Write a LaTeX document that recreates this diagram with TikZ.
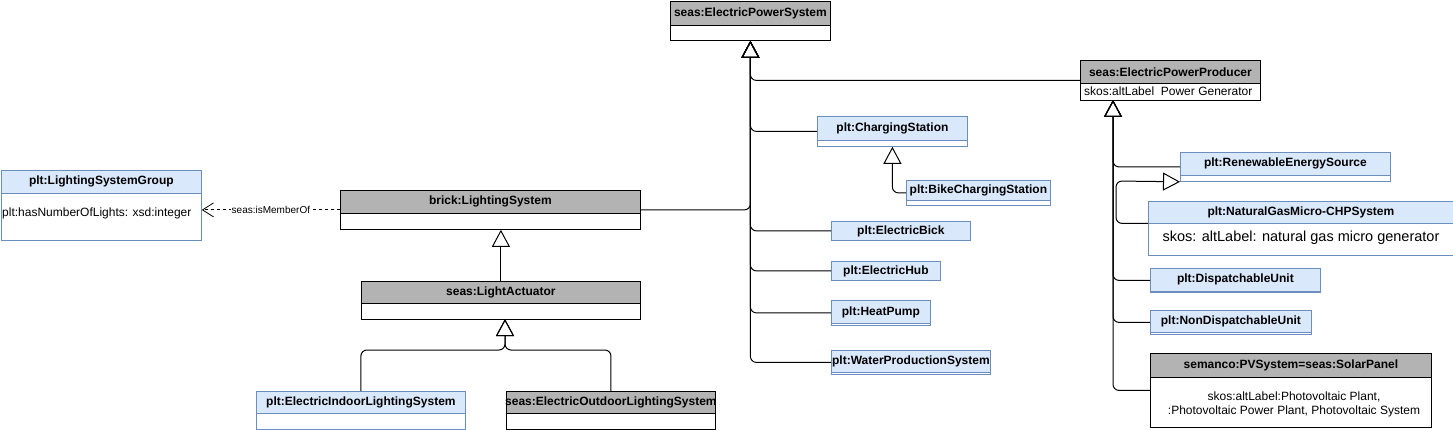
\documentclass[tikz,border=0pt]{standalone}
\usepackage{fontspec}
\setmainfont{Liberation Sans}
\usetikzlibrary{arrows.meta}

\definecolor{headgray}{HTML}{B3B3B3}
\definecolor{bluefill}{HTML}{DAE8FC}
\definecolor{blueline}{HTML}{6C8EBF}

\tikzstyle{classbox}=[
  draw,
  rectangle,
  inner sep=0pt,
  anchor=north west,
  fill=white,
  line width=0.8pt,
  ]
\tikzstyle{graybox}=[ classbox, draw=black ]
\tikzstyle{bluebox}=[ classbox, draw=blueline ]
\tikzstyle{grayhead}=[ graybox, fill=headgray, font=\bfseries\fontsize{12}{14}\selectfont ]
\tikzstyle{bluehead}=[ bluebox, fill=bluefill, font=\bfseries\fontsize{12}{14}\selectfont ]
\tikzstyle{body text}=[ inner sep=0pt, font=\fontsize{12}{14.5}\selectfont ]
\tikzstyle{isa}=[ draw, line width=1pt, rounded corners=6pt, -{Triangle[open, width=18pt, length=17pt]} ]
\tikzstyle{member}=[ draw, line width=0.8pt, dash pattern=on 3pt off 3pt, -{Straight Barb[length=11pt, width=14pt]} ]

\begin{document}
\begin{tikzpicture}[x=1pt, y=-1pt]
    \useasboundingbox (0,0) rectangle (1453,430);

    % power system side
    \node[graybox, minimum width=160, minimum height=39] (EPS) at (670,1) {};
    \node[grayhead, minimum width=160, minimum height=24] (EPSh) at (EPS.north west) {seas:ElectricPowerSystem};

    \node[graybox, minimum width=180, minimum height=40] (EPP) at (1080,60) {};
    \node[grayhead, minimum width=180, minimum height=23] (EPPh) at (EPP.north west) {seas:ElectricPowerProducer};
    \node[body text, anchor=west] (EPPb) at (1084,91.5) {skos:altLabel\ \ Power Generator};
    \coordinate (eppT) at (1113,100);

    \node[bluebox, minimum width=150, minimum height=30] (CS) at (817,116) {};
    \node[bluehead, minimum width=150, minimum height=24] (CSh) at (CS.north west) {plt:ChargingStation};

    \node[bluebox, minimum width=144, minimum height=25] (BCS) at (906,180) {};
    \node[bluehead, minimum width=144, minimum height=20] (BCSh) at (BCS.north west) {plt:BikeChargingStation};

    \node[bluehead, minimum width=139, minimum height=19] (EB) at (831,221) {plt:ElectricBick};
    \node[bluehead, minimum width=109, minimum height=19] (EH) at (831,261) {plt:ElectricHub};

    \node[bluebox, minimum width=99, minimum height=25] (HP) at (831,300) {};
    \node[bluehead, minimum width=99, minimum height=23] (HPh) at (HP.north west) {plt:HeatPump};

    \node[bluebox, minimum width=159, minimum height=24] (WPS) at (831,350) {};
    \node[bluehead, minimum width=159, minimum height=22] (WPSh) at (WPS.north west) {plt:WaterProductionSystem};

    % producers
    \node[bluebox, minimum width=210, minimum height=29] (RES) at (1180,152) {};
    \node[bluehead, minimum width=210, minimum height=23] (RESh) at (RES.north west) {plt:RenewableEnergySource};

    \node[bluebox, minimum width=305, minimum height=54] (NG) at (1148,201) {};
    \node[bluehead, minimum width=305, minimum height=22] (NGh) at (NG.north west) {plt:NaturalGasMicro-CHPSystem};
    \node[body text, font=\fontsize{14.5}{17}\selectfont] (NGb) at (1301,238) {skos: altLabel: natural gas micro generator};

    \node[bluebox, minimum width=170, minimum height=24] (DU) at (1150,268) {};
    \node[bluehead, minimum width=170, minimum height=22.5] (DUh) at (DU.north west) {plt:DispatchableUnit};

    \node[bluebox, minimum width=161, minimum height=24] (NDU) at (1150,310) {};
    \node[bluehead, minimum width=161, minimum height=22] (NDUh) at (NDU.north west) {plt:NonDispatchableUnit};

    \node[graybox, minimum width=281, minimum height=74] (PV) at (1150,353) {};
    \node[grayhead, minimum width=281, minimum height=24] (PVh) at (PV.north west) {semanco:PVSystem=seas:SolarPanel};
    \node[body text, align=center] (PVb) at (1294,404.5) {skos:altLabel:Photovoltaic Plant,\\ :Photovoltaic Power Plant, Photovoltaic System};

    % lighting side
    \node[bluebox, minimum width=200, minimum height=70] (LSG) at (1,170) {};
    \node[bluehead, minimum width=200, minimum height=23] (LSGh) at (LSG.north west) {plt:LightingSystemGroup};
    \node[body text, anchor=west] (LSGb) at (2,213) {plt:hasNumberOfLights: xsd:integer};

    \node[graybox, minimum width=300, minimum height=39] (LS) at (340,190) {};
    \node[grayhead, minimum width=300, minimum height=23] (LSh) at (LS.north west) {brick:LightingSystem};

    \node[graybox, minimum width=279, minimum height=38] (LA) at (361,281) {};
    \node[grayhead, minimum width=279, minimum height=22] (LAh) at (LA.north west) {seas:LightActuator};
    \coordinate (laT) at (505,319);
    \coordinate (laJ) at (505,350);

    \node[bluebox, minimum width=209, minimum height=38] (EII) at (256,391) {};
    \node[bluehead, minimum width=209, minimum height=22] (EIIh) at (EII.north west) {plt:ElectricIndoorLightingSystem};

    \node[graybox, minimum width=209, minimum height=38] (EOL) at (506,391) {};
    \node[grayhead, minimum width=209, minimum height=22] (EOLh) at (EOL.north west) {};
    \node[inner sep=0pt, font=\bfseries\fontsize{12}{14}\selectfont] (EOLt) at (EOLh) {seas:ElectricOutdoorLightingSystem};

    % generalisations
    \draw[isa] (EPP.west) -| (EPS.south);
    \draw[isa] (CS.west) -| (EPS.south);
    \draw[isa] (LS.east) -| (EPS.south);
    \draw[isa] (EB.west) -| (EPS.south);
    \draw[isa] (EH.west) -| (EPS.south);
    \draw[isa] (HP.west) -| (EPS.south);
    \draw[isa] (WPS.west) -| (EPS.south);
    \draw[isa] (BCS.west) -| (CS.south);

    \draw[isa] (RES.west) -| (eppT);
    \draw[isa] (DU.west) -| (eppT);
    \draw[isa] (NDU.west) -| (eppT);
    \draw[isa] (PV.west) -| (eppT);
    \coordinate (ngJ) at (1116,181);
    \draw[isa] ([yshift=5pt]NG.west) -| (ngJ) -- (RES.south west);

    \draw[isa] (LA.north) -- (LA.north |- LS.south);
    \draw[isa] (EII.north) |- (laJ) -- (laT);
    \draw[isa] (EOL.north) |- (laJ) -- (laT);

    % membership
    \draw[member] (LS.west) -- (LS.west -| LSG.east)
      node[midway, fill=white, inner sep=1pt, font=\fontsize{10}{12}\selectfont] (memberlbl) {seas:isMemberOf};
\end{tikzpicture}
\end{document}
